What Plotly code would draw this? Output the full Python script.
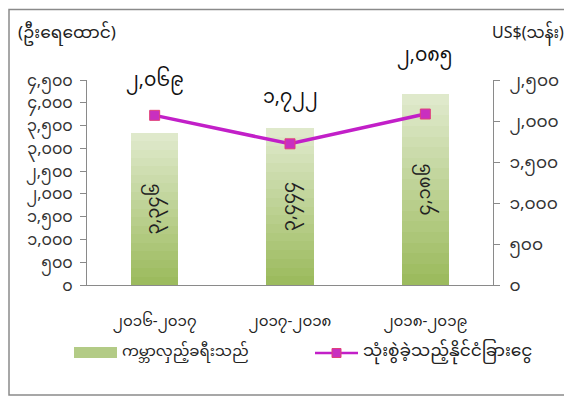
import plotly.graph_objects as go

categories = ["၂၀၁၆-၂၀၁၇", "၂၀၁၇-၂၀၁၈", "၂၀၁၈-၂၀၁၉"]
tourists = [3346, 3444, 4186]          # thousand persons (left axis)
spending = [2069, 1722, 2085]          # US$ million (right axis)
left_ticks = [0, 500, 1000, 1500, 2000, 2500, 3000, 3500, 4000, 4500]
right_ticks = [0, 500, 1000, 1500, 2000, 2500]
bar_name = "ကမ္ဘာလှည့်ခရီးသည်"
line_name = "သုံးစွဲခဲ့သည့်နိုင်ငံခြားငွေ"
left_title = "(ဦးရေထောင်)"
right_title = "US$(သန်း)"

MM = str.maketrans("0123456789", "၀၁၂၃၄၅၆၇၈၉")


def mm(n):
    return f"{n:,}".translate(MM)


FONT = "Noto Sans Myanmar, Padauk, Myanmar Text, DejaVu Sans, sans-serif"

fig = go.Figure()

# gradient bars (light top -> darker bottom)
top_c = (0xDF, 0xE9, 0xCB)
bot_c = (0x9C, 0xBB, 0x5E)
N = 18
for k in range(N):
    t = k / (N - 1)
    col = tuple(int(round(top_c[i] + (bot_c[i] - top_c[i]) * t)) for i in range(3))
    frac = 1 - k / N
    fig.add_trace(go.Bar(
        x=categories, y=[v * frac for v in tourists],
        marker=dict(color="rgb(%d,%d,%d)" % col, line=dict(width=0)),
        width=0.35, showlegend=False, hoverinfo="skip", yaxis="y",
    ))

# label carrier
fig.add_trace(go.Bar(
    x=categories, y=tourists, width=0.35,
    marker=dict(color="rgba(0,0,0,0)", line=dict(width=0)),
    text=[mm(v) for v in tourists], textposition="inside",
    insidetextanchor="middle", textangle=-90, constraintext="none",
    textfont=dict(family=FONT, size=18, color="#222"),
    showlegend=False, name=bar_name, yaxis="y",
))

fig.add_trace(go.Scatter(
    x=categories, y=spending, yaxis="y2", mode="lines+markers",
    line=dict(color="#c21fc8", width=3.5),
    marker=dict(symbol="square", size=10, color="#c92fc0",
                line=dict(color="#e0407a", width=1)),
    showlegend=False, name=line_name,
))

shifts = [34, 45, 58]
for c, v, s in zip(categories, spending, shifts):
    fig.add_annotation(x=c, y=v, yref="y2", text=mm(v), showarrow=False,
                       yshift=s, yanchor="middle",
                       font=dict(family=FONT, size=19, color="#111"))

# page body has an 8px margin, so figure is 8px smaller and all
# reference pixel positions are shifted by 8
OFF = 8
W, H = 572 - OFF, 400 - OFF
L, R, T, B = 87 - OFF, W - (493 - OFF), 80 - OFF, H - (285 - OFF)
pw, ph = W - L - R, H - T - B


def px(x):
    return (x - OFF - L) / pw


def py(y):
    return (H - B - (y - OFF)) / ph


# outer border
fig.add_shape(type="rect", xref="paper", yref="paper",
              x0=px(9), x1=px(567), y0=py(395), y1=py(9.5),
              line=dict(color="#8a8a8a", width=1.5), fillcolor="rgba(0,0,0,0)")

# axis titles
fig.add_annotation(xref="paper", yref="paper", x=px(16), y=py(34), xanchor="left",
                   yanchor="middle", text=left_title, showarrow=False,
                   font=dict(family=FONT, size=17, color="#222"))
fig.add_annotation(xref="paper", yref="paper", x=px(566), y=py(34), xanchor="right",
                   yanchor="middle", text=right_title, showarrow=False,
                   font=dict(family=FONT, size=16, color="#222"))

# custom legend
fig.add_shape(type="rect", xref="paper", yref="paper",
              x0=px(74), x1=px(117), y0=py(358), y1=py(347),
              line=dict(width=0), fillcolor="#b3cb86")
fig.add_annotation(xref="paper", yref="paper", x=px(120), y=py(352), xanchor="left",
                   yanchor="middle", text=bar_name, showarrow=False,
                   font=dict(family=FONT, size=15, color="#222"))
fig.add_shape(type="line", xref="paper", yref="paper",
              x0=px(315), x1=px(358), y0=py(353), y1=py(353),
              line=dict(color="#c21fc8", width=2.5))
fig.add_shape(type="rect", xref="paper", yref="paper",
              x0=px(332), x1=px(341), y0=py(357.5), y1=py(348.5),
              line=dict(color="#e0407a", width=1), fillcolor="#c92fc0")
fig.add_annotation(xref="paper", yref="paper", x=px(361), y=py(352), xanchor="left",
                   yanchor="middle", text=line_name, showarrow=False,
                   font=dict(family=FONT, size=17, color="#222"))

fig.update_layout(
    width=W, height=H, barmode="overlay", bargap=0,
    margin=dict(l=L, r=R, t=T, b=B, pad=0),
    paper_bgcolor="white", plot_bgcolor="white",
    font=dict(family=FONT, size=13, color="#222"),
    showlegend=False,
    xaxis=dict(showgrid=False, showline=True, linecolor="#8a8a8a", linewidth=1,
               ticks="", tickfont=dict(family=FONT, size=15, color="#222"),
               ticklabelstandoff=22),
    yaxis=dict(range=[0, 4500], tickvals=left_ticks,
               ticktext=[mm(v) for v in left_ticks], showgrid=False,
               showline=True, linecolor="#8a8a8a", linewidth=1,
               ticks="outside", ticklen=6, tickcolor="#8a8a8a",
               ticklabelstandoff=4,
               zeroline=False, tickfont=dict(family=FONT, size=16, color="#333")),
    yaxis2=dict(range=[0, 2500], tickvals=right_ticks,
                ticktext=[mm(v) for v in right_ticks], overlaying="y",
                side="right", showgrid=False, showline=True,
                linecolor="#8a8a8a", linewidth=1, ticks="outside", ticklen=6,
                tickcolor="#8a8a8a", zeroline=False, ticklabelstandoff=6,
                tickfont=dict(family=FONT, size=17, color="#333")),
)

fig.write_html("out.html")
